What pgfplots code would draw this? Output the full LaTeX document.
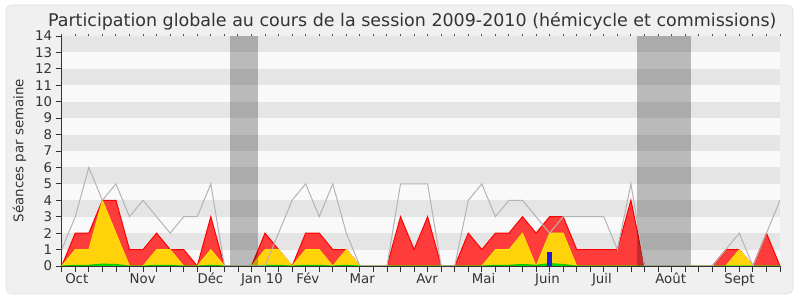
\documentclass[border=0pt]{standalone}
\usepackage{fontspec}
\setmainfont{DejaVu Sans}
\usepackage{pgfplots}
\usepackage{pgfplotstable}
\pgfplotsset{compat=1.18}
\definecolor{bgframe}{RGB}{240,240,240}
\definecolor{stripeD}{RGB}{229,229,229}
\definecolor{stripeL}{RGB}{249,249,249}
\definecolor{redfill}{RGB}{255,60,60}
\definecolor{redline}{RGB}{255,0,0}
\definecolor{yelfill}{RGB}{255,210,10}
\definecolor{yelline}{RGB}{255,230,0}
\definecolor{grnfill}{RGB}{0,230,0}
\definecolor{grnline}{RGB}{0,200,0}
\definecolor{grayline}{RGB}{180,180,180}
\definecolor{txt}{RGB}{51,51,51}
\definecolor{barblue}{RGB}{30,30,220}
\pgfplotstableread{
i gray red yel grn
0 1 0 0 0
1 3 2 1 0.05
2 6 2 1 0.05
3 4 4 4 0.12
4 5 4 2 0.1
5 3 1 0 0
6 4 1 0 0
7 3 2 1 0.05
8 2 1 1 0.05
9 3 1 0 0
10 3 0 0 0
11 5 3 1 0.05
12 0 0 0 0
13 0 0 0 0
14 0 0 0 0
15 0 2 1 0.05
16 2 1 1 0.05
17 4 0 0 0
18 5 2 1 0.05
19 3 2 1 0.05
20 5 1 0 0
21 2 1 1 0.05
22 0 0 0 0
23 0 0 0 0
24 0 0 0 0
25 5 3 0 0
26 5 1 0 0
27 5 3 0 0
28 0 0 0 0
29 0 0 0 0
30 4 2 0 0
31 5 1 0 0
32 3 2 1 0.05
33 4 2 1 0.05
34 4 3 2 0.1
35 3 2 0 0.05
36 2 3 2 0.15
37 3 3 2 0.1
38 3 1 0 0
39 3 1 0 0
40 3 1 0 0
41 1 1 0 0
42 5 4 0 0
43 0 0 0 0
44 0 0 0 0
45 0 0 0 0
46 0 0 0 0
47 0 0 0 0
48 0 0 0 0
49 1 1 0 0
50 2 1 1 0
51 0 0 0 0
52 2 2 0 0
53 4 0 0 0
}\data
\begin{document}
\begin{tikzpicture}
\fill[white] (0,0) rectangle (600pt,225pt);
\draw[fill=bgframe, draw=black!12, rounded corners=4pt] (4.5pt,4.5pt) rectangle (594.75pt,221.25pt);
\node[anchor=base, text=txt, font=\fontsize{13.1}{15}\selectfont] at (309.2pt,205pt) {Participation globale au cours de la session 2009-2010 (hémicycle et commissions)};
\node[anchor=base, rotate=90, text=txt, font=\fontsize{10}{12}\selectfont] at (17.5pt,112.1pt) {Séances par semaine};
\begin{axis}[
 at={(46.3pt,25.5pt)}, anchor=south west,
 scale only axis, width=538.7pt, height=172.5pt,
 xmin=0, xmax=53, ymin=0, ymax=14,
 axis x line*=bottom, axis y line*=left,
 axis line style={draw=black!80, -},
 xtick={0,...,53}, xticklabels={},
 ytick={0,...,14},
 tick align=outside, major tick length=4.5pt,
 tick style={black!80, line width=0.6pt},
 extra x ticks={0.24,4.99,10.0,13.21,17.29,21.22,26.14,30.25,34.92,39.11,43.78,48.87},
 extra x tick labels={Oct,Nov,Déc,Jan 10,Fév,Mar,Avr,Mai,Juin,Juil,Août,Sept},
 extra x tick style={major tick length=0pt, tick label style={anchor=north west, inner sep=0pt, text height=7.5pt, text depth=2pt, yshift=-5.5pt}},
 tick label style={font=\fontsize{10}{12}\selectfont, text=txt},
 yticklabel style={inner sep=2.5pt},
 /pgf/number format/assume math mode=true,
 axis background/.style={fill=stripeL},
]
\fill[stripeD] (axis cs:0,1) rectangle (axis cs:53,2);
\fill[stripeD] (axis cs:0,3) rectangle (axis cs:53,4);
\fill[stripeD] (axis cs:0,5) rectangle (axis cs:53,6);
\fill[stripeD] (axis cs:0,7) rectangle (axis cs:53,8);
\fill[stripeD] (axis cs:0,9) rectangle (axis cs:53,10);
\fill[stripeD] (axis cs:0,11) rectangle (axis cs:53,12);
\fill[stripeD] (axis cs:0,13) rectangle (axis cs:53,14);
\addplot[draw=redline, fill=redfill, line width=0.75pt, mark=none] table[x=i,y=red]{\data} \closedcycle;
\addplot[draw=yelline, fill=yelfill, line width=0.6pt, mark=none] table[x=i,y=yel]{\data} \closedcycle;
\addplot[draw=grnline, fill=grnfill, line width=0.6pt, mark=none] table[x=i,y=grn]{\data} \closedcycle;
\addplot[ybar, bar width=3.75pt, fill=barblue, draw=none] coordinates {(36,0.85)};
\fill[black, opacity=0.25] (axis cs:12.45,0) rectangle (axis cs:14.45,14);
\fill[black, opacity=0.25] (axis cs:42.45,0) rectangle (axis cs:46.45,14);
\addplot[grayline, line width=0.75pt, mark=none] table[x=i,y=gray]{\data};
\end{axis}
\begin{axis}[
 at={(46.3pt,25.5pt)}, anchor=south west,
 scale only axis, width=538.7pt, height=172.5pt,
 xmin=0, xmax=53, ymin=0, ymax=14,
 axis x line*=top, axis y line=none,
 axis line style={draw=none},
 xtick={0,...,53}, xticklabels={},
 tick align=outside, major tick length=1.2pt,
 tick style={black!70, line width=0.75pt},
]
\addplot[draw=none] coordinates {(0,0)};
\end{axis}
\end{tikzpicture}
\end{document}
